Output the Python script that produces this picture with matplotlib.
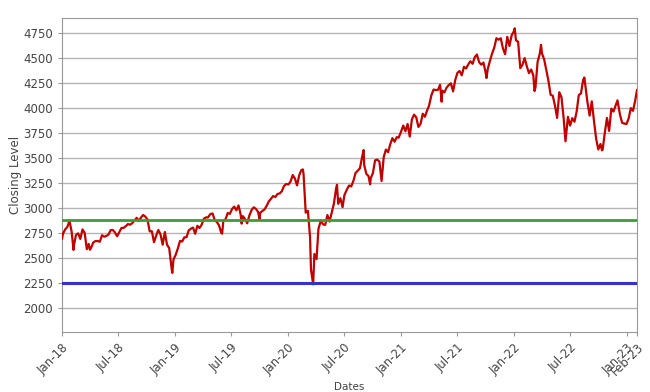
import matplotlib
matplotlib.use("Agg")
import matplotlib.pyplot as plt
import matplotlib.dates as mdates
import pandas as pd

dates = [
"2018-01-02","2018-01-05","2018-01-12","2018-01-19","2018-01-26","2018-02-02","2018-02-08","2018-02-09","2018-02-16","2018-02-23",
"2018-03-02","2018-03-09","2018-03-16","2018-03-23","2018-03-29","2018-04-02","2018-04-06","2018-04-13","2018-04-20","2018-04-27",
"2018-05-04","2018-05-11","2018-05-18","2018-05-25","2018-06-01","2018-06-08","2018-06-15","2018-06-22","2018-06-29","2018-07-06",
"2018-07-13","2018-07-20","2018-07-27","2018-08-03","2018-08-10","2018-08-17","2018-08-24","2018-08-31","2018-09-07","2018-09-14",
"2018-09-21","2018-09-28","2018-10-05","2018-10-12","2018-10-19","2018-10-26","2018-11-02","2018-11-09","2018-11-16","2018-11-23",
"2018-11-30","2018-12-07","2018-12-14","2018-12-21","2018-12-24","2018-12-28",
"2019-01-04","2019-01-11","2019-01-18","2019-01-25","2019-02-01","2019-02-08","2019-02-15","2019-02-22","2019-03-01","2019-03-08",
"2019-03-15","2019-03-22","2019-03-29","2019-04-05","2019-04-12","2019-04-18","2019-04-26","2019-05-03","2019-05-10","2019-05-17",
"2019-05-24","2019-05-31","2019-06-03","2019-06-07","2019-06-14","2019-06-21","2019-06-28","2019-07-05","2019-07-12","2019-07-19",
"2019-07-26","2019-08-02","2019-08-05","2019-08-09","2019-08-16","2019-08-23","2019-08-30","2019-09-06","2019-09-13","2019-09-20",
"2019-09-27","2019-10-02","2019-10-04","2019-10-11","2019-10-18","2019-10-25","2019-11-01","2019-11-08","2019-11-15","2019-11-22",
"2019-11-29","2019-12-06","2019-12-13","2019-12-20","2019-12-27",
"2020-01-03","2020-01-10","2020-01-17","2020-01-24","2020-01-31","2020-02-07","2020-02-14","2020-02-19","2020-02-21","2020-02-28",
"2020-03-06","2020-03-13","2020-03-16","2020-03-20","2020-03-23","2020-03-27","2020-04-03","2020-04-09","2020-04-17","2020-04-24",
"2020-05-01","2020-05-08","2020-05-15","2020-05-22","2020-05-29","2020-06-05","2020-06-08","2020-06-12","2020-06-19","2020-06-26",
"2020-07-02","2020-07-10","2020-07-17","2020-07-24","2020-07-31","2020-08-07","2020-08-14","2020-08-21","2020-08-28","2020-09-02",
"2020-09-04","2020-09-11","2020-09-18","2020-09-23","2020-09-25","2020-10-02","2020-10-09","2020-10-16","2020-10-23","2020-10-30",
"2020-11-06","2020-11-13","2020-11-20","2020-11-27","2020-12-04","2020-12-11","2020-12-18","2020-12-24","2020-12-31",
"2021-01-08","2021-01-15","2021-01-22","2021-01-29","2021-02-05","2021-02-12","2021-02-19","2021-02-26","2021-03-05","2021-03-12",
"2021-03-19","2021-03-26","2021-04-01","2021-04-09","2021-04-16","2021-04-23","2021-04-30","2021-05-07","2021-05-12","2021-05-14",
"2021-05-21","2021-05-28","2021-06-04","2021-06-11","2021-06-18","2021-06-25","2021-07-02","2021-07-09","2021-07-16","2021-07-23",
"2021-07-30","2021-08-06","2021-08-13","2021-08-20","2021-08-27","2021-09-03","2021-09-10","2021-09-17","2021-09-24","2021-10-01",
"2021-10-04","2021-10-08","2021-10-15","2021-10-22","2021-10-29","2021-11-05","2021-11-12","2021-11-19","2021-11-26","2021-12-03",
"2021-12-10","2021-12-17","2021-12-24","2021-12-31",
"2022-01-03","2022-01-07","2022-01-14","2022-01-21","2022-01-28","2022-02-04","2022-02-11","2022-02-18","2022-02-25","2022-03-04",
"2022-03-08","2022-03-11","2022-03-18","2022-03-25","2022-03-29","2022-04-01","2022-04-08","2022-04-14","2022-04-22","2022-04-29",
"2022-05-06","2022-05-13","2022-05-20","2022-05-27","2022-06-03","2022-06-10","2022-06-16","2022-06-24","2022-07-01","2022-07-08",
"2022-07-15","2022-07-22","2022-07-29","2022-08-05","2022-08-12","2022-08-16","2022-08-19","2022-08-26","2022-09-02","2022-09-09",
"2022-09-16","2022-09-23","2022-09-30","2022-10-07","2022-10-12","2022-10-14","2022-10-21","2022-10-28","2022-11-04","2022-11-11",
"2022-11-18","2022-11-25","2022-12-01","2022-12-09","2022-12-16","2022-12-23","2022-12-30",
"2023-01-06","2023-01-13","2023-01-20","2023-01-27","2023-02-02",
]

closing = [
2695,2743,2786,2810,2873,2762,2581,2620,2732,2747,
2691,2786,2752,2588,2641,2582,2604,2656,2670,2670,
2663,2728,2713,2721,2735,2779,2780,2755,2718,2760,
2801,2802,2819,2840,2833,2850,2875,2902,2872,2905,
2930,2914,2885,2767,2768,2658,2723,2781,2736,2633,
2760,2633,2600,2417,2351,2486,
2532,2596,2671,2665,2707,2708,2776,2793,2804,2743,
2822,2800,2834,2893,2907,2905,2940,2946,2881,2860,
2826,2752,2744,2873,2887,2950,2942,2990,3014,2977,
3026,2932,2844,2919,2889,2847,2926,2979,3007,2992,
2962,2888,2952,2970,2986,3023,3067,3093,3120,3110,
3141,3146,3169,3221,3240,
3235,3265,3330,3295,3226,3328,3380,3386,3338,2954,
2972,2711,2386,2305,2237,2541,2489,2790,2875,2837,
2831,2930,2864,2955,3044,3194,3232,3041,3098,3009,
3130,3185,3225,3216,3271,3351,3373,3397,3508,3580,
3427,3341,3319,3237,3298,3348,3477,3484,3465,3270,
3510,3585,3558,3638,3699,3663,3709,3703,3756,
3825,3768,3841,3714,3887,3934,3907,3811,3842,3943,
3913,3975,4020,4129,4185,4180,4181,4233,4063,4174,
4156,4204,4230,4247,4166,4281,4352,4370,4327,4412,
4395,4437,4468,4442,4509,4535,4459,4433,4455,4357,
4300,4391,4471,4545,4605,4698,4683,4698,4595,4538,
4712,4620,4726,4766,
4797,4677,4663,4398,4432,4500,4419,4349,4385,4329,
4170,4204,4463,4543,4632,4546,4488,4393,4272,4132,
4123,4024,3901,4158,4109,3901,3667,3912,3825,3899,
3863,3962,4130,4145,4280,4305,4228,4058,3924,4067,
3873,3693,3586,3640,3577,3583,3752,3901,3771,3993,
3965,4026,4077,3934,3852,3845,3840,
3895,3999,3972,4071,4179,
]

green_level = 2877
blue_level = 2253

tick_dates = ["2018-01-01","2018-07-01","2019-01-01","2019-07-01","2020-01-01","2020-07-01",
              "2021-01-01","2021-07-01","2022-01-01","2022-07-01","2023-01-01","2023-02-01"]

x = pd.to_datetime(dates)

fig = plt.figure(figsize=(6.5, 3.92), dpi=100)
ax = fig.add_axes([0.095, 0.153, 0.885, 0.801])

ax.grid(axis="y", color="#b4b4b4", linewidth=1.0)
ax.set_axisbelow(True)
ax.plot(x, closing, color="#c00000", linewidth=1.6, zorder=3)
ax.axhline(green_level, color="#3c9c3c", linewidth=2.0, zorder=4)
ax.axhline(blue_level, color="#3333cc", linewidth=2.2, zorder=4)

ax.set_xlim(x[0], x[-1])
ax.set_ylim(1760, 4900)
ax.set_yticks([2000, 2250, 2500, 2750, 3000, 3250, 3500, 3750, 4000, 4250, 4500, 4750])
ax.set_xticks(pd.to_datetime(tick_dates))
ax.xaxis.set_major_formatter(mdates.DateFormatter("%b-%y"))
for lbl in ax.get_xticklabels():
    lbl.set_rotation(45)
    lbl.set_ha("right")
    lbl.set_rotation_mode("anchor")

ax.tick_params(axis="both", labelsize=8.5, colors="#444444", length=3, color="#999999")
for s in ax.spines.values():
    s.set_color("#999999")

ax.set_ylabel("Closing Level", fontsize=8.5, color="#444444", labelpad=1)
ax.set_xlabel("Dates", fontsize=7.5, color="#444444")
ax.xaxis.set_label_coords(0.5, -0.158)

fig.savefig("out.png", dpi=100)
